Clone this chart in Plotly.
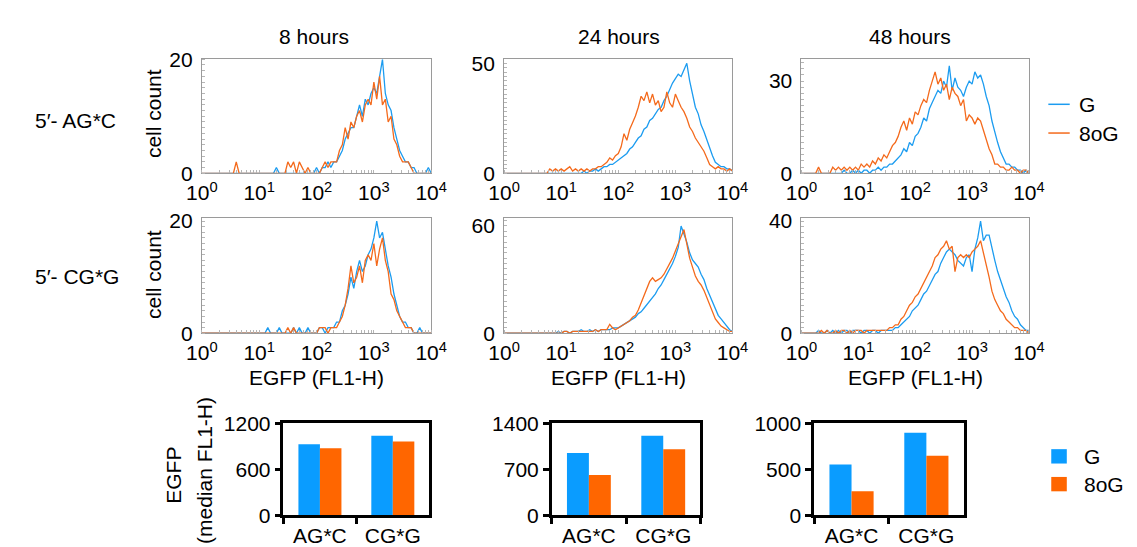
import plotly.graph_objects as go

W, H = 1137, 547

# ---------------- data ----------------
# histogram bins: log10(EGFP) positions 0.00 .. 4.00 in 0.05 steps
log_bins = [i * 0.05 for i in range(81)]

time_labels = ["8 hours", "24 hours", "48 hours"]
seq_labels = ["5\u2032- AG*C", "5\u2032- CG*G"]
series_names = ["G", "8oG"]

# row 1: 5'-AG*C
ag_8h_G = [0]*10 + [0]*10 + [0,0,0,0,0,0,1,0,0,0] + [0]*10 + \
    [1,0,1,1,2,1,2,2,3,4] + [6,7,8,8,10,12,10,13,12,14] + \
    [15,14,17,20,14,12,11,8,6,4] + [3,2,2,1,1,0,0,0,0,1] + [0]
ag_8h_8oG = [0]*10 + [0,0,2,0,0,0,0,0,0,0] + [0]*10 + [2,1,2,0,2,1,0,1,0,0] + \
    [0,0,1,2,1,2,2,2,4,5] + [8,6,9,8,10,11,9,12,13,12] + \
    [16,13,17,12,13,9,10,6,5,3] + [2,2,2,1,0,0,0,0,0,0] + [0]
ag_24h_G = [0]*10 + [0]*10 + [0,0,0,0,0,0,0,0,1,0] + [1,1,2,1,2,3,3,4,4,5] + \
    [6,7,8,9,11,12,14,16,17,20] + [21,24,25,27,29,30,33,35,38,41] + \
    [43,45,44,47,50,42,36,30,27,22] + [19,15,12,8,5,4,3,3,2,2] + [1]
ag_24h_8oG = [0]*10 + [0,0,0,0,0,0,2,1,2,1] + [2,1,2,3,1,2,1,2,1,2] + \
    [1,2,2,3,3,4,5,7,6,8] + [9,12,18,15,20,23,26,30,35,33] + \
    [37,32,36,31,33,28,30,37,32,30] + [36,33,30,28,25,21,19,16,14,12] + \
    [10,7,4,3,2,3,2,2,1,2] + [1]
ag_48h_G = [0]*10 + [0,0,0,0,0,1,0,0,1,0] + [1,0,1,1,0,1,1,2,1,2] + \
    [2,3,3,4,5,6,8,7,10,9] + [12,13,15,18,17,21,23,25,27,26] + \
    [30,28,35,27,31,28,27,25,28,30] + [29,33,31,32,29,25,22,17,13,10] + \
    [7,5,3,3,2,2,1,1,0,1] + [0]
ag_48h_8oG = [0,0,0,0,0,0,2,0,0,0] + [0,2,1,2,1,2,1,2,1,2] + [1,3,2,3,2,4,3,5,4,6] + \
    [5,7,9,10,12,15,17,14,18,16] + [20,19,22,24,23,27,30,33,29,31] + \
    [27,29,24,28,26,25,22,24,17,19] + [18,16,18,17,14,11,8,6,3,3] + \
    [2,2,1,1,2,1,1,0,1,1] + [0]

# row 2: 5'-CG*G
cg_8h_G = [0]*10 + [0]*10 + [0,0,0,1,0,0,0,1,0,0] + [0,0,1,0,1,0,0,1,0,0] + \
    [0,1,1,0,1,1,1,2,2,4] + [5,7,10,8,11,13,11,12,14,15] + \
    [17,20,17,18,15,12,10,7,5,3] + [2,2,1,1,0,0,1,0,0,0] + [0]
cg_8h_8oG = [0]*10 + [0]*10 + [0]*10 + [1,0,1,0,0,0,0,0,0,0] + \
    [0,1,1,1,0,1,1,1,2,3] + [5,8,12,9,10,12,9,13,14,13] + \
    [16,12,15,17,13,11,7,6,4,3] + [2,1,1,1,0,0,0,0,0,0] + [0]
cg_24h_G = [0]*10 + [0,0,0,0,0,0,0,0,0,1] + [0,1,1,0,1,1,1,2,1,1] + \
    [2,1,2,1,2,2,2,2,3,3] + [3,4,5,6,7,8,9,11,12,14] + \
    [16,18,20,22,25,27,30,33,36,39] + [43,48,60,56,51,45,41,39,37,33] + \
    [30,25,21,17,13,10,8,6,4,2] + [1]
cg_24h_8oG = [0]*10 + [0]*10 + [0,1,1,0,1,1,1,1,1,1] + [1,1,2,1,2,2,2,5,3,2] + \
    [3,4,5,6,7,9,10,13,17,20] + [24,29,31,29,30,31,33,36,39,42] + \
    [46,50,55,58,50,42,37,32,29,27] + [24,20,15,12,8,6,4,3,2,1] + [1]
cg_48h_G = [0,0,0,0,0,0,1,0,0,1] + [0,1,0,1,0,1,1,0,1,1] + [1,0,1,1,0,1,1,0,1,1] + \
    [1,1,1,2,2,3,4,5,6,8] + [9,10,12,14,15,17,19,21,22,25] + \
    [27,29,30,29,28,26,25,24,27,28] + [22,30,34,40,33,35,35,30,26,22] + \
    [19,16,13,11,8,6,5,3,2,1] + [1]
cg_48h_8oG = [0,0,0,0,0,0,0,1,0,1] + [0,0,1,0,1,1,0,1,0,1] + [1,1,0,1,1,1,1,1,1,1] + \
    [1,2,2,3,3,5,6,8,10,11] + [13,14,16,18,20,22,24,27,28,30] + \
    [31,33,30,31,22,27,28,27,28,27] + [29,30,31,33,29,24,20,15,12,10] + \
    [8,7,5,4,3,2,2,1,1,1] + [0]

hist_G = [[ag_8h_G, ag_24h_G, ag_48h_G], [cg_8h_G, cg_24h_G, cg_48h_G]]
hist_8oG = [[ag_8h_8oG, ag_24h_8oG, ag_48h_8oG], [cg_8h_8oG, cg_24h_8oG, cg_48h_8oG]]
hist_ymax = [[20, 51.8, 37.1], [20.5, 64.3, 41]]
hist_yticks = [[[0, 20], [0, 50], [0, 30]], [[0, 20], [0, 60], [0, 40]]]
hist_yminor = [[1, 2, 2], [1, 3, 2]]

x_tickvals = [1, 10, 100, 1000, 10000]
x_ticktext = ["10<sup>0</sup>", "10<sup>1</sup>", "10<sup>2</sup>", "10<sup>3</sup>", "10<sup>4</sup>"]

# bar charts: median FL1-H
bar_categories = ["AG*C", "CG*G"]
median_G = [[925, 1037], [948, 1210], [552, 896]]
median_8oG = [[875, 962], [612, 1006], [260, 646]]
bar_ymax = [1200, 1400, 1000]
bar_yticks = [[0, 600, 1200], [0, 700, 1400], [0, 500, 1000]]

# ---------------- style ----------------
LINE_BLUE = "#1c9cf0"
LINE_ORANGE = "#f46a1c"
BAR_BLUE = "#0a9cff"
BAR_ORANGE = "#ff6600"
FONT = "Arial, Liberation Sans, sans-serif"
FS = 21

def px_x(p):
    return p / W

def px_y(p):
    return 1 - p / H

col_px = [(183, 419), (494, 729), (800, 1034)]
row_px = [(41, 160), (207, 327)]
bar_col_px = [(267, 417), (543, 696), (813, 967)]
bar_row_px = (421, 517)

fig = go.Figure()
layout = dict(
    width=W, height=H, autosize=False,
    margin=dict(l=0, r=0, t=0, b=0),
    paper_bgcolor="white", plot_bgcolor="white",
    showlegend=False,
    font=dict(family=FONT, size=FS, color="black"),
)

annotations = []
shapes = []
ax = 0
for r in range(2):
    for c in range(3):
        ax += 1
        xa = "x" if ax == 1 else f"x{ax}"
        ya = "y" if ax == 1 else f"y{ax}"
        xs = [10 ** v for v in log_bins]
        fig.add_trace(go.Scatter(x=xs, y=hist_G[r][c], mode="lines", name=series_names[0],
                                 line=dict(color=LINE_BLUE, width=1.3), xaxis=xa, yaxis=ya))
        fig.add_trace(go.Scatter(x=xs, y=hist_8oG[r][c], mode="lines", name=series_names[1],
                                 line=dict(color=LINE_ORANGE, width=1.3), xaxis=xa, yaxis=ya))
        layout[f"xaxis{ax}"] = dict(
            domain=[px_x(col_px[c][0]), px_x(col_px[c][1])], anchor=ya,
            type="log", range=[0, 4], tickvals=x_tickvals, ticktext=x_ticktext,
            showgrid=False, zeroline=False, showline=True, linecolor="#9a9a9a",
            linewidth=1, mirror=True, ticks="", tickfont=dict(size=FS),
            ticklabelstandoff=1,
            minor=dict(ticks="inside", ticklen=3, tickcolor="#b5b5b5", tickwidth=1,
                       dtick="D1", showgrid=False),
        )
        layout[f"yaxis{ax}"] = dict(
            domain=[px_y(row_px[r][1]), px_y(row_px[r][0])], anchor=xa,
            range=[0, hist_ymax[r][c]], tickvals=hist_yticks[r][c],
            showgrid=False, zeroline=False, showline=True, linecolor="#9a9a9a",
            linewidth=1, mirror=True, ticks="", tickfont=dict(size=FS),
            ticklabelstandoff=4,
            minor=dict(ticks="inside", ticklen=3, tickcolor="#b5b5b5", tickwidth=1,
                       tickmode="linear", tick0=0, dtick=hist_yminor[r][c], showgrid=False),
        )

for c in range(3):
    ax += 1
    xa = f"x{ax}"
    ya = f"y{ax}"
    fig.add_trace(go.Bar(x=bar_categories, y=median_G[c], name=series_names[0],
                         marker=dict(color=BAR_BLUE, line=dict(width=0)), xaxis=xa, yaxis=ya))
    fig.add_trace(go.Bar(x=bar_categories, y=median_8oG[c], name=series_names[1],
                         marker=dict(color=BAR_ORANGE, line=dict(width=0)), xaxis=xa, yaxis=ya))
    layout[f"xaxis{ax}"] = dict(
        domain=[px_x(bar_col_px[c][0]), px_x(bar_col_px[c][1])], anchor=ya,
        type="category", range=[-0.5, 1.5], showgrid=False, zeroline=False,
        showline=True, linecolor="black", linewidth=2.5, mirror=True,
        ticks="outside", tickson="boundaries", ticklen=6, tickwidth=2.5, tickcolor="black",
        tickfont=dict(size=FS),
    )
    layout[f"yaxis{ax}"] = dict(
        domain=[px_y(bar_row_px[1]), px_y(bar_row_px[0])], anchor=xa,
        range=[0, bar_ymax[c]], tickvals=bar_yticks[c], showgrid=False, zeroline=False,
        showline=True, linecolor="black", linewidth=2.5, mirror=True,
        ticks="outside", ticklen=6, tickwidth=2.5, tickcolor="black",
        tickfont=dict(size=FS),
    )
layout["barmode"] = "group"
layout["bargap"] = 0.41
layout["bargroupgap"] = 0

def ann(text, x, y, xanchor="center", yanchor="middle", angle=0, size=FS):
    annotations.append(dict(text=text, x=px_x(x), y=px_y(y), xref="paper", yref="paper",
                            xanchor=xanchor, yanchor=yanchor, showarrow=False,
                            textangle=angle, font=dict(size=size, family=FONT, color="black")))

# column titles
for c, t in enumerate(time_labels):
    ann(t, [298, 612, 912][c], 17)
# row labels
ann(seq_labels[0], 9, 105, xanchor="left")
ann(seq_labels[1], 9, 268, xanchor="left")
ann("cell count", 134, 98, angle=-90)
ann("cell count", 134, 266, angle=-90)
for c in range(3):
    ann("EGFP (FL1-H)", [301, 612, 917][c], 373)
# bar y title
ann("EGFP", 153, 475, angle=-90)
ann("(median FL1-H)", 185, 470, angle=-90)

# legends
legend_colors_line = [LINE_BLUE, LINE_ORANGE]
for i, nm in enumerate(series_names):
    yy = [88, 118][i]
    shapes.append(dict(type="line", xref="paper", yref="paper",
                       x0=px_x(1054), x1=px_x(1076), y0=px_y(yy), y1=px_y(yy),
                       line=dict(color=legend_colors_line[i], width=1.5)))
    ann(nm, 1084, yy, xanchor="left")
legend_colors_bar = [BAR_BLUE, BAR_ORANGE]
for i, nm in enumerate(series_names):
    y0, y1 = [(448, 463), (477, 492)][i]
    shapes.append(dict(type="rect", xref="paper", yref="paper",
                       x0=px_x(1057), x1=px_x(1073), y0=px_y(y1), y1=px_y(y0),
                       fillcolor=legend_colors_bar[i], line=dict(width=0)))
    ann(nm, 1089, (y0 + y1) / 2, xanchor="left")

layout["annotations"] = annotations
layout["shapes"] = shapes
fig.update_layout(**layout)
fig.write_html("out.html")
